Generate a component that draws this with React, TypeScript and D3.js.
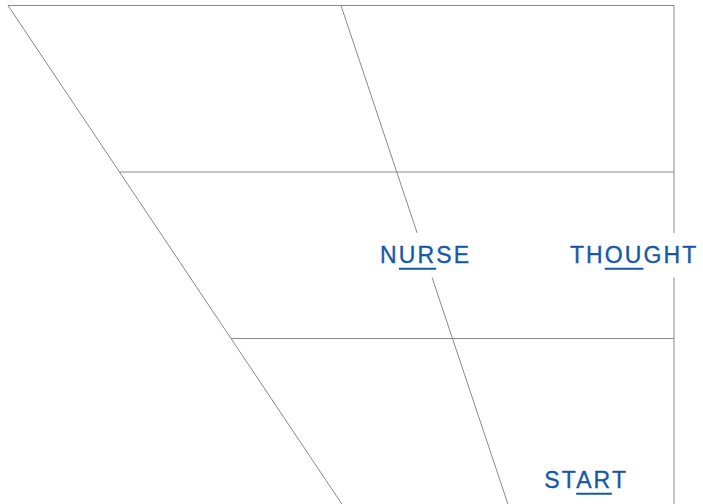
import { useEffect, useRef } from "react";
import * as d3 from "d3";

// vowel quadrilateral: heights 0 (close) .. 3 (open), frontness 0 (front) .. 1 (back)
const heights = [0, 1, 2, 3];
const columns = [0, 0.5, 1];

// lexical set labels, with the underlined letters
const words = ["NURSE", "THOUGHT", "START"];
const frontness = [0.5, 0.918, 0.745];
const openness = [1.5, 1.5, 2.85];
const underlined = [
  [1, 3],
  [2, 4],
  [2, 4],
];

const W = 703;
const H = 504;

const App = () => {
  const ref = useRef<SVGSVGElement>(null);

  useEffect(() => {
    const svg = d3.select(ref.current);
    svg.selectAll("*").remove();

    const yScale = d3.scaleLinear().domain([0, 3]).range([5.5, 505]);
    const frontScale = d3.scaleLinear().domain([0, 3]).range([8, 342.5]);
    const backX = 674;
    const xAt = (f: number, h: number) =>
      d3.interpolateNumber(frontScale(h), backX)(f);

    const line = d3
      .line<[number, number]>()
      .x((d) => xAt(d[0], d[1]))
      .y((d) => yScale(d[1]));

    const grid = svg.append("g").attr("fill", "none").attr("stroke", "#8a8a8a");

    heights.forEach((h) => {
      grid.append("path").attr("d", line([[0, h], [1, h]]));
    });
    columns.forEach((f) => {
      grid.append("path").attr("d", line([[f, 0], [f, 3]]));
    });

    const labels = svg.append("g");
    words.forEach((word, i) => {
      const cx = xAt(frontness[i], openness[i]);
      const cy = yScale(openness[i]);
      const g = labels.append("g");
      const rect = g.append("rect").attr("fill", "#fff");
      const text = g
        .append("text")
        .attr("x", cx + 1)
        .attr("y", cy + 8.2)
        .attr("text-anchor", "middle")
        .attr("fill", "#1758a6")
        .attr("stroke", "#1758a6")
        .attr("stroke-width", 0.35)
        .attr("font-family", "'Liberation Sans', Arial, sans-serif")
        .attr("font-size", 23)
        .attr("letter-spacing", 2.1)
        .text(word);
      const node = text.node() as SVGTextElement;
      const bb = node.getBBox();
      rect
        .attr("x", bb.x - 8)
        .attr("y", bb.y - 9.5)
        .attr("width", bb.width + 14)
        .attr("height", bb.height + 18.5);
      const [a, b] = underlined[i];
      const x0 = node.getStartPositionOfChar(a).x;
      const x1 = node.getEndPositionOfChar(b - 1).x;
      g.append("line")
        .attr("x1", x0)
        .attr("x2", x1)
        .attr("y1", cy + 13.6)
        .attr("y2", cy + 13.6)
        .attr("stroke", "#1758a6")
        .attr("stroke-width", 2);
    });
  }, []);

  return (
    <svg
      ref={ref}
      width={W}
      height={H}
      style={{ position: "absolute", left: 0, top: 0, background: "#fff" }}
    />
  );
};

export default App;
